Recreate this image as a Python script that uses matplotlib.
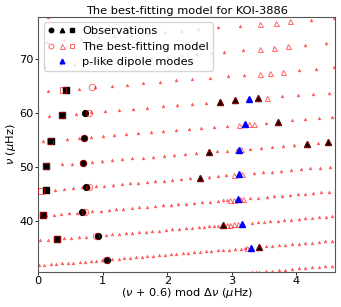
import numpy as np
import matplotlib
matplotlib.use("Agg")
import matplotlib.pyplot as plt
from matplotlib.lines import Line2D
from matplotlib.legend_handler import HandlerTuple

plt.rcParams['font.family'] = ['DejaVu Sans']
plt.rcParams['mathtext.fontset'] = 'dejavusans'

delta_nu = 4.61
shift = 0.6

# model dipole (mixed) modes, g-dominated (small symbols)
model_l1_small = [
    30.33, 30.38, 30.43, 30.48, 30.59, 30.69, 30.79, 30.89, 31.00, 31.10, 31.20, 31.31, 31.41, 31.51, 31.62,
    31.68, 31.76, 31.86, 31.94, 32.04, 32.13, 32.21, 32.31, 32.39, 32.49, 32.57, 32.66, 32.73, 32.82, 32.92,
    33.00, 33.09, 33.18, 33.28, 33.36, 33.45, 33.54, 33.63, 33.72, 33.81, 33.91, 33.99, 34.09, 34.17, 34.27,
    34.35, 34.45, 34.53, 34.63, 34.72, 34.81, 34.87, 35.20, 35.30, 35.40, 35.50, 35.61, 35.71, 35.81, 35.92,
    36.02, 36.12, 36.23,
    36.31, 36.43, 36.55, 36.68, 36.79, 36.91, 37.02, 37.17, 37.33, 37.43, 37.53, 37.64, 37.74, 37.84, 37.95,
    38.05, 38.15, 38.26, 38.36, 38.46, 38.57, 38.67, 38.77, 38.85, 38.93, 39.00, 39.07, 39.59, 39.68, 39.78,
    39.88, 39.99, 40.09, 40.20, 40.32, 40.42, 40.53, 40.64, 40.74, 40.84,
    41.01, 41.14, 41.24, 41.37, 41.49, 41.61, 41.73, 41.86, 41.98, 42.09, 42.21, 42.34, 42.45, 42.58, 42.70,
    42.82, 42.94, 43.06, 43.18, 43.31, 43.43, 43.55, 43.67, 43.76, 43.82, 44.18, 44.30, 44.43, 44.54, 44.67,
    44.79, 44.91, 45.03, 45.15, 45.27, 45.39,
    45.62, 45.76, 45.90, 46.04, 46.18, 46.29, 46.39, 46.52, 46.66, 46.80, 46.92, 47.05, 47.18, 47.31, 47.45,
    47.58, 47.72, 47.85, 48.14, 48.28, 48.41, 48.84, 48.99, 49.13, 49.27, 49.42, 49.57, 49.71, 49.87, 50.02,
    50.48, 50.63, 50.80, 50.94, 51.10, 51.25, 51.41, 51.57, 51.74, 51.89, 52.06, 52.22, 52.38, 52.55, 52.88,
    53.04, 53.39, 53.57, 53.74, 53.90, 54.07, 54.44,
    54.80, 55.16, 55.35, 55.53, 55.72, 55.90, 56.08, 56.27, 56.47, 56.66, 56.85, 57.05, 57.24, 57.44, 57.64,
    58.25, 58.66, 58.86, 59.07, 59.27,
    59.50, 59.92, 60.15, 60.36, 60.58, 60.80, 61.02, 61.26, 61.48, 61.71, 61.93, 63.11, 63.35, 63.59, 63.83,
    64.09, 64.57, 64.82, 65.08, 65.32, 65.57, 65.82, 66.08, 66.33, 66.61, 66.88, 67.13, 67.99, 68.24, 68.53,
    68.65, 68.88, 69.11, 69.35, 69.58, 69.82, 70.06, 70.30, 70.54, 70.78, 71.01, 71.23, 71.43, 71.72, 72.69,
    73.01,
    73.29, 73.56, 73.82, 74.08, 74.34, 74.60, 74.86, 75.12, 75.38, 75.63, 75.95, 76.28, 77.39, 77.74,
    77.92,
]

# model dipole modes with larger symbols (more p-like, not matched)
model_l1_big = [34.91, 39.21, 39.26, 39.31, 39.37, 43.87, 43.92, 44.01, 44.06, 48.53, 48.66,
                53.19, 53.26, 57.83, 57.99, 58.06, 62.88, 67.37, 67.53, 67.73,
                71.99, 72.20, 72.42, 76.59, 76.84, 77.07]

# best-fitting model, matched to observations
model_l0 = [32.72, 37.17, 41.61, 46.28, 50.80, 55.43, 60.12, 64.78]
model_l1 = [35.09, 39.15, 48.00, 52.76, 54.27, 54.60, 58.43, 62.15, 62.38, 62.74]
model_l2 = [36.57, 40.96, 45.54, 50.23, 54.90, 59.70, 64.32]

# observations
obs_l0 = [32.74, 37.21, 41.57, 46.24, 50.80, 55.43, 60.05]
obs_l1 = [35.09, 39.15, 48.00, 52.76, 54.27, 54.60, 58.43, 62.15, 62.38, 62.74]
obs_l2 = [36.57, 40.97, 45.62, 50.23, 54.91, 59.70, 64.37]

# p-like dipole modes of the model
p_like_l1 = [34.97, 39.44, 43.98, 48.61, 53.22, 57.92, 62.60]


def echelle(nu):
    nu = np.asarray(nu)
    return (nu + shift) % delta_nu, nu


fig = plt.figure(figsize=(3.41, 3.07), dpi=100)
ax = fig.add_axes([0.1123, 0.115, 0.870, 0.8306])

FS = 8.2
red = 'red'

x, y = echelle(model_l1_small)
ax.plot(x, y, ls='none', marker='^', ms=2.0, mec=red, mfc=red, mew=0.4, alpha=0.55, zorder=2)

x, y = echelle(model_l1_big)
ax.plot(x, y, ls='none', marker='^', ms=3.6, mec=red, mfc='none', mew=0.7, alpha=0.6, zorder=3)

x, y = echelle(obs_l0)
ax.plot(x, y, ls='none', marker='o', ms=4.2, color='black', zorder=4)
x, y = echelle(obs_l1)
ax.plot(x, y, ls='none', marker='^', ms=4.2, color='black', zorder=4)
x, y = echelle(obs_l2)
ax.plot(x, y, ls='none', marker='s', ms=3.9, color='black', zorder=4)

x, y = echelle(p_like_l1)
ax.plot(x, y, ls='none', marker='^', ms=4.3, color='blue', zorder=5)

x, y = echelle(model_l0)
ax.plot(x, y, ls='none', marker='o', ms=4.6, mec=red, mfc='none', mew=0.7, alpha=0.6, zorder=6)
x, y = echelle(model_l1)
ax.plot(x, y, ls='none', marker='^', ms=4.6, mec=red, mfc='none', mew=0.7, alpha=0.6, zorder=6)
x, y = echelle(model_l2)
ax.plot(x, y, ls='none', marker='s', ms=4.4, mec=red, mfc='none', mew=0.7, alpha=0.6, zorder=6)

ax.set_xlim(0, 4.6)
ax.set_ylim(30.5, 77.95)
ax.set_xticks([0, 1, 2, 3, 4])
ax.set_yticks([40, 50, 60, 70])
ax.tick_params(labelsize=FS, length=2.2, width=0.6, pad=1.2)
for s in ax.spines.values():
    s.set_linewidth(0.8)
    s.set_color('#555555')

ax.set_title('The best-fitting model for KOI-3886', fontsize=FS, pad=2)
ax.set_xlabel(r'($\nu$ + 0.6) mod $\Delta\nu$ ($\mu$Hz)', fontsize=FS, labelpad=0)
ax.set_ylabel(r'$\nu$ ($\mu$Hz)', fontsize=FS, labelpad=1)

h_obs = (Line2D([], [], ls='none', marker='o', ms=3.2, color='black'),
         Line2D([], [], ls='none', marker='^', ms=3.2, color='black'),
         Line2D([], [], ls='none', marker='s', ms=3.0, color='black'))
h_mod = (Line2D([], [], ls='none', marker='o', ms=3.6, mec=red, mfc='none', mew=0.6, alpha=0.7),
         Line2D([], [], ls='none', marker='^', ms=3.6, mec=red, mfc='none', mew=0.6, alpha=0.7),
         Line2D([], [], ls='none', marker='s', ms=3.4, mec=red, mfc='none', mew=0.6, alpha=0.7))
h_p = Line2D([], [], ls='none', marker='^', ms=3.4, color='blue')
ax.legend([h_obs, h_mod, h_p], ['Observations', 'The best-fitting model', 'p-like dipole modes'],
          handler_map={tuple: HandlerTuple(ndivide=None, pad=0.3)}, loc='upper left',
          fontsize=FS, handlelength=2.4, handletextpad=0.6, borderpad=0.35, labelspacing=0.45)

fig.savefig('out.png', dpi=100)
